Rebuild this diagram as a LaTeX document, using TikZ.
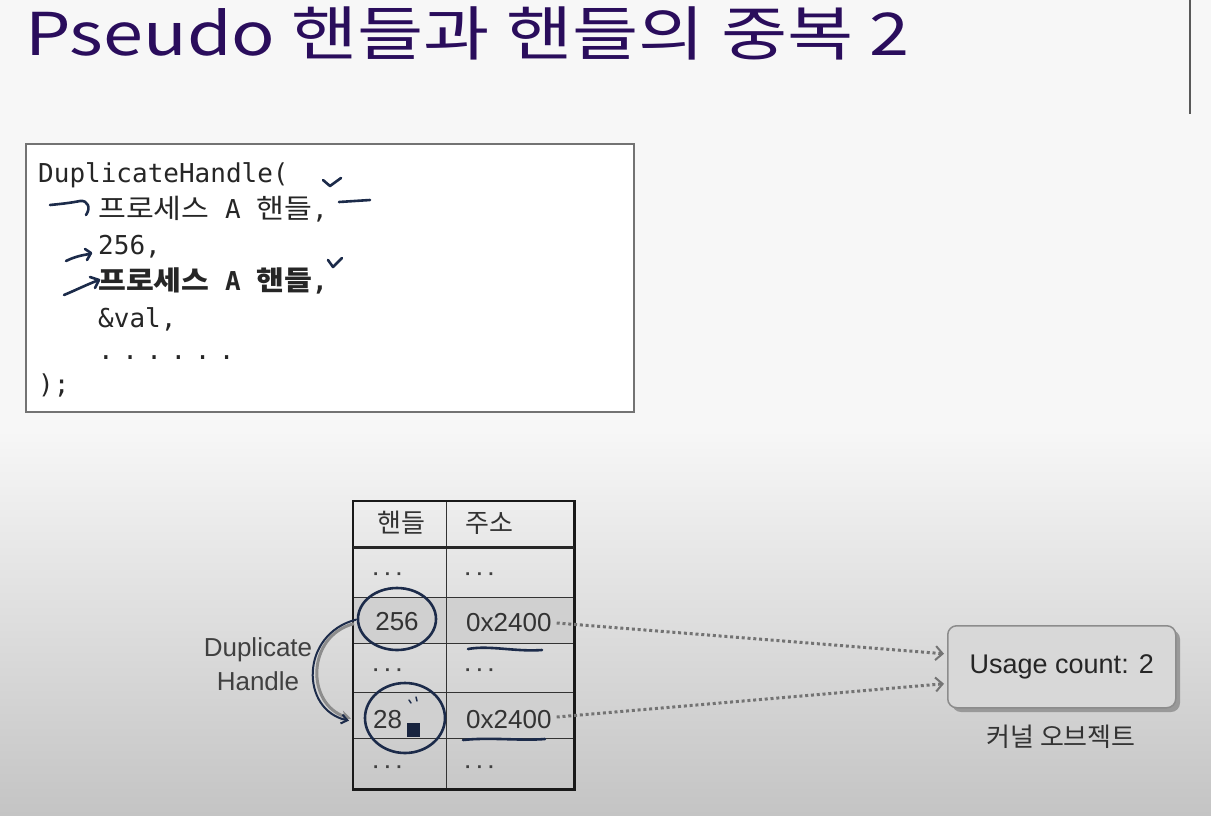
\documentclass[tikz,border=0pt]{standalone}
\usepackage{fontspec}
\usetikzlibrary{arrows.meta,calc}
\newfontfamily\krfont{Noto Sans CJK KR}
\newfontfamily\titlefont[FakeStretch=1.22]{Noto Sans CJK KR}
\newfontfamily\codekrfont[FakeStretch=1.12]{Noto Sans CJK KR}
\newfontfamily\codefont{DejaVu Sans Mono}
\newfontfamily\labelfont{Liberation Sans}
\definecolor{titlepurple}{HTML}{2A0D5C}
\definecolor{ink}{HTML}{1C2B4A}
\definecolor{bgtop}{HTML}{F7F7F7}
\definecolor{bgbottom}{HTML}{C4C4C4}
\definecolor{rowgray}{HTML}{D0D0D0}
\definecolor{boxgray}{HTML}{D8D8D8}
\newcommand{\kr}[1]{{\codekrfont\fontsize{27}{30}\selectfont #1}}

\begin{document}
\begin{tikzpicture}[x=1pt,y=-1pt,
  hand/.style={draw=ink, line width=2.6pt, line cap=round, line join=round},
  codeline/.style={anchor=base west, inner sep=0pt, text=black!85,
    font=\codefont\fontsize{26}{30}\selectfont},
  cell/.style={draw=black!80, line width=1.3pt, anchor=north west, inner sep=0pt},
  handcol/.style={cell, minimum width=93pt},
  addrcol/.style={cell, minimum width=127pt},
  shadedrow/.style={fill=rowgray},
  celltext/.style={inner sep=0pt, text=black!80, font=\labelfont\fontsize{26}{30}\selectfont},
  hdrtext/.style={inner sep=0pt, text=black!80, font=\krfont\fontsize{26}{30}\selectfont},
  celldots/.style={inner sep=0pt, text=black!75, font=\labelfont\bfseries\fontsize{19}{22}\selectfont},
  refline/.style={draw=black!55, line width=3pt, dash pattern=on 3pt off 2.8pt,
    -{Straight Barb[length=7pt,width=14pt,line width=2pt]}},
]
\useasboundingbox (0,0) rectangle (1211,815);

% background
\fill[bgtop] (0,0) rectangle (1211,430);
\shade[top color=bgtop, bottom color=bgbottom] (0,430) rectangle (1211,815);
\draw[black!65, line width=2pt] (1190,0) -- (1190,114);

% title
\node[anchor=base west, inner sep=0pt, text=titlepurple,
  font=\titlefont\fontsize{59}{70}\selectfont] (title) at (25,55)
  {Pseudo 핸들과 핸들의 중복 2};

% code listing
\node[draw=black!55, line width=1.5pt, fill=white, anchor=north west, inner sep=0pt,
  minimum width=608pt, minimum height=268pt] (codebox) at (25,143) {};
\node[codeline] (c1) at (38,182) {DuplicateHandle(};
\node[codeline] (c2) at (98,218) {\kr{프로세스} A \kr{핸들},};
\node[codeline] (c3) at (98,254) {256,};
\node[codeline, font=\codefont\bfseries\fontsize{26}{30}\selectfont] (c4) at (98,290)
  {\kr{\bfseries 프로세스} A \kr{\bfseries 핸들},};
\node[codeline] (c5) at (98,327) {\&val,};
\node[codeline] (c6) at (98,359) {.\hspace{8.5pt}.\hspace{8.5pt}.\hspace{8.5pt}.\hspace{8.5pt}.\hspace{8.5pt}.};
\node[codeline] (c7) at (38,393) {);};

% pen marks on the listing
\draw[hand] (50,205) .. controls (60,204) and (70,203) .. (80,201)
            .. controls (88,200) and (91,208) .. (86,215);
\draw[hand] (323,180) -- (330,186) -- (341,178);
\draw[hand] (339,202) -- (370,200);
\draw[hand] (66,261) .. controls (74,257) and (82,255) .. (90,254);
\draw[hand] (85,249) -- (91,253) -- (87,260);
\draw[hand] (64,295) .. controls (76,290) and (88,284) .. (99,280);
\draw[hand] (90,277) -- (99,280) -- (95,288);
\draw[hand] (328,260) -- (333,267) -- (342,258);

% handle table
\node[handcol, minimum height=45pt] (h0) at (353,501) {};
\node[addrcol, minimum height=45pt] (a0) at (446,501) {};
\node[handcol, minimum height=51pt] (h1) at (353,546) {};
\node[addrcol, minimum height=51pt] (a1) at (446,546) {};
\node[handcol, shadedrow, minimum height=46pt] (h2) at (353,597) {};
\node[addrcol, shadedrow, minimum height=46pt] (a2) at (446,597) {};
\node[handcol, minimum height=49pt] (h3) at (353,643) {};
\node[addrcol, minimum height=49pt] (a3) at (446,643) {};
\node[handcol, shadedrow, minimum height=46pt] (h4) at (353,692) {};
\node[addrcol, shadedrow, minimum height=46pt] (a4) at (446,692) {};
\node[handcol, minimum height=50pt] (h5) at (353,738) {};
\node[addrcol, minimum height=50pt] (a5) at (446,738) {};
\draw[black!90, line width=2.6pt] (h0.north west) rectangle (a5.south east);
\draw[black!85, line width=3pt] (h0.south west) -- (a0.south east);

\node[hdrtext] (th) at (401,523) {핸들};
\node[hdrtext, anchor=west] (ta) at (465,523) {주소};
\node[celldots] (d1h) at (388,577) {· · ·};
\node[celldots] (d1a) at (480,577) {· · ·};
\node[celltext] (v2h) at (397,622) {256};
\node[celltext, anchor=west] (v2a) at (466,623) {0x2400};
\node[celldots] (d3h) at (388,673) {· · ·};
\node[celldots] (d3a) at (480,673) {· · ·};
\node[celltext, anchor=west] (v4h) at (373,720) {28};
\node[celltext, anchor=west] (v4a) at (466,720) {0x2400};
\node[celldots] (d5h) at (388,770) {· · ·};
\node[celldots] (d5a) at (480,770) {· · ·};

% duplicate arrow
\node[align=center, inner sep=0pt, text=black!75,
  font=\labelfont\fontsize{26}{34}\selectfont] (dup) at (258,664) {Duplicate\\Handle};
\draw[black!45, line width=3pt, -{Stealth[length=10pt,width=10pt]}]
  ($(h2.west)+(1,3)$) .. controls (306,636) and (306,704) .. ($(h4.west)+(-2,3)$);
\draw[hand, line width=2pt, -{Straight Barb[length=6pt,width=9pt]}]
  ($(h2.west)+(3,-1)$) .. controls (300,634) and (300,710) .. ($(h4.west)+(-4,5)$);

% kernel object
\fill[black!40, rounded corners=9pt] (952,630) rectangle (1180,712);
\node[draw=black!45, line width=1.5pt, fill=boxgray, rounded corners=9pt,
  anchor=north west, minimum width=228pt, minimum height=82pt, inner sep=0pt,
  text=black!85, font=\labelfont\fontsize{27}{30}\selectfont] (ko) at (947,625)
  {Usage count: 2};
\node[hdrtext] (kol) at (1061,737) {커널 오브젝트};

\coordinate (k1) at ($(ko.west)+(-3,-13)$);
\coordinate (k2) at ($(ko.west)+(-3,17)$);
\draw[refline] ($(v2a.east)+(5,0)$) -- (k1);
\draw[refline] ($(v4a.east)+(5,-3)$) -- (k2);

% pen marks on the table
\draw[hand] (397,619) ellipse [x radius=39, y radius=31];
\draw[hand] (405,718) ellipse [x radius=40, y radius=35];
\draw[hand] (468,649) .. controls (490,645) and (515,652) .. (542,650);
\draw[hand] (463,740) .. controls (490,737) and (520,741) .. (545,739);
\draw[hand, line width=1.5pt] (409,700) -- (411,703);
\draw[hand, line width=1.5pt] (416,697) -- (417,701);
\fill[ink!85!black] (407,723) rectangle (420,737);
\end{tikzpicture}
\end{document}
